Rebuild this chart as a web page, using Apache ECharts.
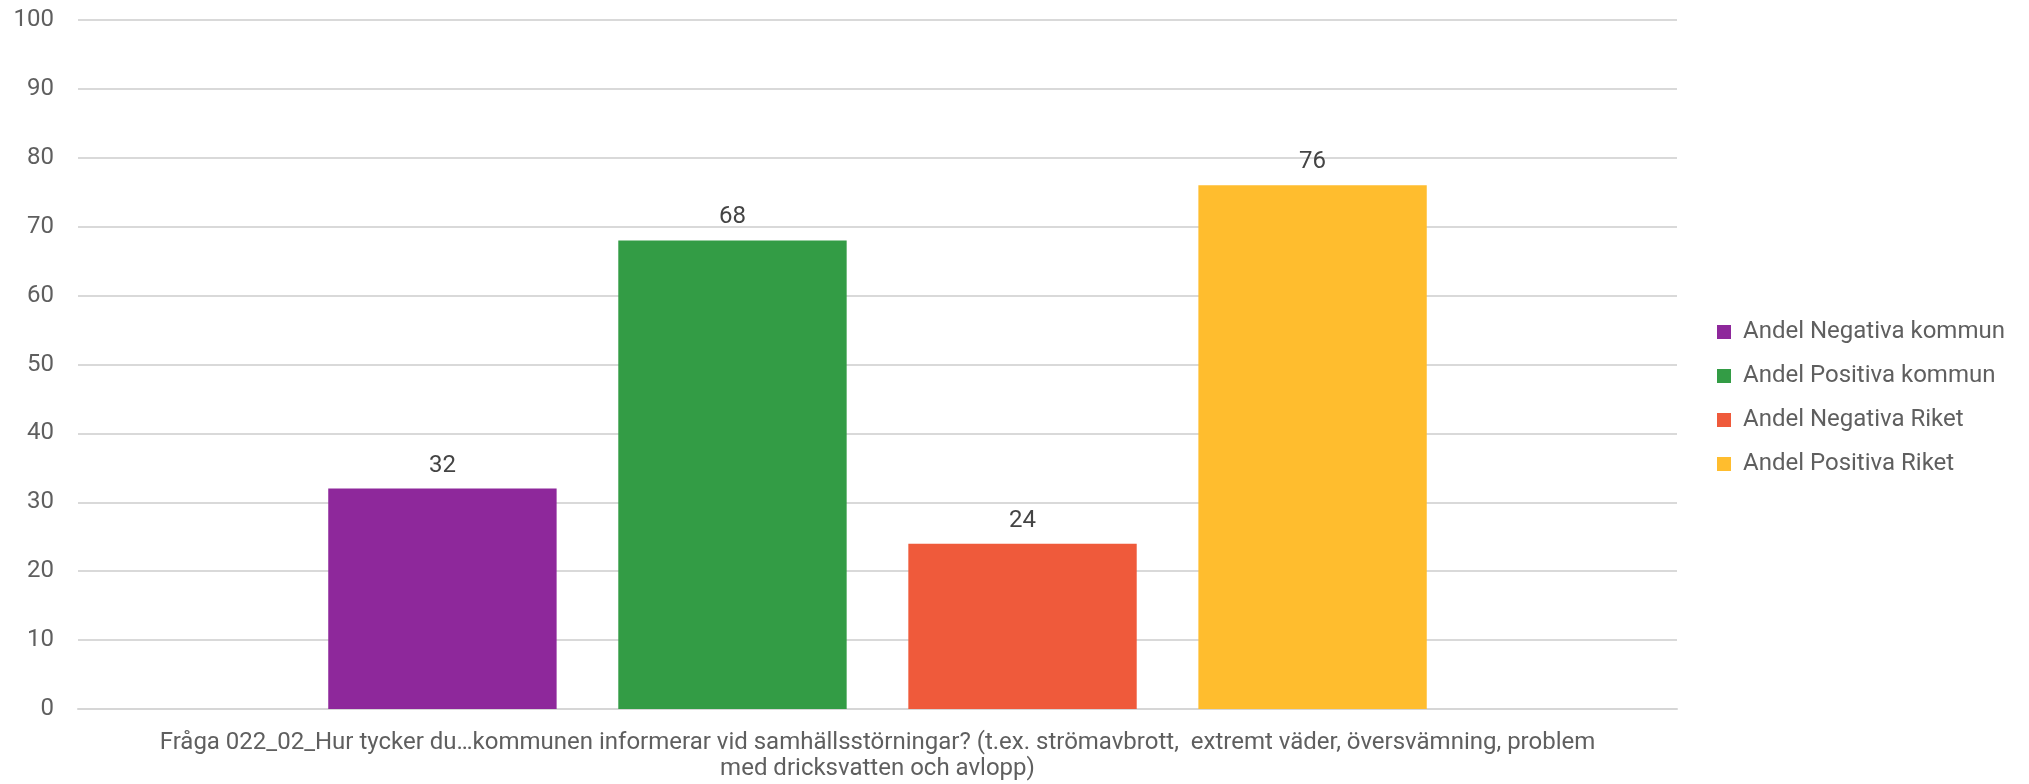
<!DOCTYPE html>
<html><head><meta charset="utf-8">
<script src="https://cdn.jsdelivr.net/npm/echarts@6/dist/echarts.min.js"></script>
<style>html,body{margin:0;padding:0;background:#fff}#c{width:2029px;height:784px}</style>
</head><body><div id="c"></div>
<script>
const categories = ["Fråga 022_02_Hur tycker du…kommunen informerar vid samhällsstörningar? (t.ex. strömavbrott,  extremt väder, översvämning, problem\nmed dricksvatten och avlopp)"];
const seriesNames = ["Andel Negativa kommun", "Andel Positiva kommun", "Andel Negativa Riket", "Andel Positiva Riket"];
const negKommun = [32];
const posKommun = [68];
const negRiket = [24];
const posRiket = [76];
const seriesValues = [negKommun, posKommun, negRiket, posRiket];
const colors = ["#8e289b", "#339c45", "#ef5a3b", "#ffbd2e"];

const chart = echarts.init(document.getElementById('c'), null, {renderer: 'canvas'});
chart.setOption({
  animation: false,
  textStyle: {fontFamily: 'Roboto'},
  grid: {left: 78, right: 352, top: 20, bottom: 75, containLabel: false},
  legend: {
    orient: 'vertical', left: 1712, top: 315,
    itemWidth: 14, itemHeight: 14, itemGap: 20,
    icon: 'rect',
    textStyle: {fontFamily: 'Roboto', fontSize: 24, color: '#5f5f5f', padding: [0,0,0,7]},
    data: seriesNames
  },
  xAxis: {
    type: 'category', data: categories,
    axisLine: {lineStyle: {color: '#d6d6d6', width: 2}},
    axisTick: {show: false},
    axisLabel: {fontFamily: 'Roboto', fontSize: 24, color: '#5f5f5f', lineHeight: 26, margin: 21, align: 'center', interval: 0}
  },
  yAxis: {
    type: 'value', min: 0, max: 100, interval: 10,
    axisLine: {show: false}, axisTick: {show: false},
    splitLine: {lineStyle: {color: '#d9d9d9', width: 2}},
    axisLabel: {fontFamily: 'Roboto', fontSize: 24, color: '#5f5f5f', margin: 24}
  },
  series: seriesNames.map((n, i) => ({
    name: n, type: 'bar', data: seriesValues[i],
    itemStyle: {color: colors[i]},
    barGap: '27%', barCategoryGap: '31.3%',
    label: {show: true, position: 'top', distance: 11, fontFamily: 'Roboto', fontSize: 24, color: '#444444'}
  }))
});
</script></body></html>
